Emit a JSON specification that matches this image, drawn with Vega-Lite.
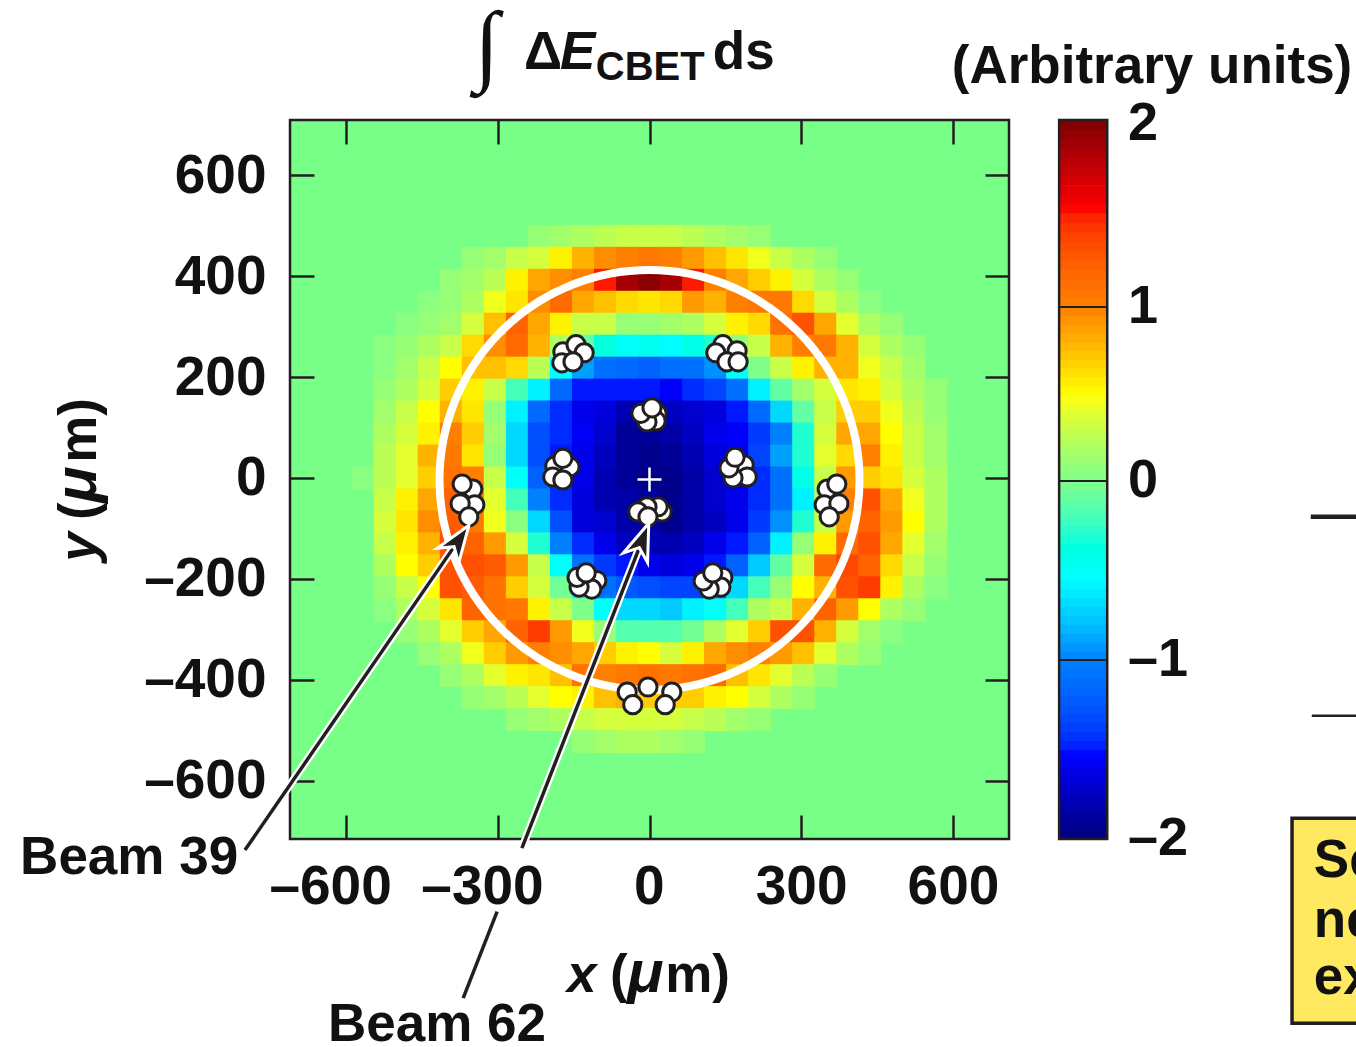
{"$schema":"https://vega.github.io/schema/vega-lite/v6.json","width":719,"height":719,"autosize":{"type":"none"},"padding":{"left":290,"top":120,"right":347,"bottom":208},"background":"white","config":{"view":{"stroke":"#231f20","strokeWidth":2.5,"fill":"#78ff88"},"text":{"font":"Liberation Sans","fontWeight":"bold","color":"#111111"}},
"datasets":{"heat":[
{"x":-217.5,"y":478.5,"v":0.1},{"x":-174,"y":478.5,"v":0.15},{"x":-130.5,"y":478.5,"v":0.2},{"x":-87,"y":478.5,"v":0.25},{"x":-43.5,"y":478.5,"v":0.3},{"x":0,"y":478.5,"v":0.3},{"x":43.5,"y":478.5,"v":0.3},{"x":87,"y":478.5,"v":0.25},{"x":130.5,"y":478.5,"v":0.2},{"x":174,"y":478.5,"v":0.15},{"x":217.5,"y":478.5,"v":0.1},
{"x":-348,"y":435,"v":0.1},{"x":-304.5,"y":435,"v":0.15},{"x":-261,"y":435,"v":0.3},{"x":-217.5,"y":435,"v":0.35},{"x":-174,"y":435,"v":0.55},{"x":-130.5,"y":435,"v":0.8},{"x":-87,"y":435,"v":0.95},{"x":-43.5,"y":435,"v":1},{"x":0,"y":435,"v":1.05},{"x":43.5,"y":435,"v":1},{"x":87,"y":435,"v":0.9},{"x":130.5,"y":435,"v":0.75},{"x":174,"y":435,"v":0.6},{"x":217.5,"y":435,"v":0.45},{"x":261,"y":435,"v":0.3},{"x":304.5,"y":435,"v":0.2},{"x":348,"y":435,"v":0.1},
{"x":-391.5,"y":391.5,"v":0.1},{"x":-348,"y":391.5,"v":0.15},{"x":-304.5,"y":391.5,"v":0.25},{"x":-261,"y":391.5,"v":0.55},{"x":-217.5,"y":391.5,"v":0.85},{"x":-174,"y":391.5,"v":0.95},{"x":-130.5,"y":391.5,"v":1},{"x":-87,"y":391.5,"v":1.5},{"x":-43.5,"y":391.5,"v":1.85},{"x":0,"y":391.5,"v":1.95},{"x":43.5,"y":391.5,"v":1.85},{"x":87,"y":391.5,"v":1.5},{"x":130.5,"y":391.5,"v":1},{"x":174,"y":391.5,"v":0.85},{"x":217.5,"y":391.5,"v":0.7},{"x":261,"y":391.5,"v":0.55},{"x":304.5,"y":391.5,"v":0.35},{"x":348,"y":391.5,"v":0.2},{"x":391.5,"y":391.5,"v":0.1},
{"x":-435,"y":348,"v":0.05},{"x":-391.5,"y":348,"v":0.1},{"x":-348,"y":348,"v":0.2},{"x":-304.5,"y":348,"v":0.45},{"x":-261,"y":348,"v":0.6},{"x":-217.5,"y":348,"v":0.95},{"x":-174,"y":348,"v":1.15},{"x":-130.5,"y":348,"v":0.85},{"x":-87,"y":348,"v":0.75},{"x":-43.5,"y":348,"v":0.65},{"x":0,"y":348,"v":0.6},{"x":43.5,"y":348,"v":0.65},{"x":87,"y":348,"v":0.9},{"x":130.5,"y":348,"v":0.8},{"x":174,"y":348,"v":1},{"x":217.5,"y":348,"v":1.05},{"x":261,"y":348,"v":1.05},{"x":304.5,"y":348,"v":0.65},{"x":348,"y":348,"v":0.35},{"x":391.5,"y":348,"v":0.2},{"x":435,"y":348,"v":0.05},
{"x":-478.5,"y":304.5,"v":0.05},{"x":-435,"y":304.5,"v":0.1},{"x":-391.5,"y":304.5,"v":0.15},{"x":-348,"y":304.5,"v":0.35},{"x":-304.5,"y":304.5,"v":0.75},{"x":-261,"y":304.5,"v":1.2},{"x":-217.5,"y":304.5,"v":0.85},{"x":-174,"y":304.5,"v":0.55},{"x":-130.5,"y":304.5,"v":0.3},{"x":-87,"y":304.5,"v":0.3},{"x":-43.5,"y":304.5,"v":0.1},{"x":0,"y":304.5,"v":0.1},{"x":43.5,"y":304.5,"v":0.15},{"x":87,"y":304.5,"v":0.2},{"x":130.5,"y":304.5,"v":0.35},{"x":174,"y":304.5,"v":0.55},{"x":217.5,"y":304.5,"v":0.65},{"x":261,"y":304.5,"v":1.1},{"x":304.5,"y":304.5,"v":1.3},{"x":348,"y":304.5,"v":0.85},{"x":391.5,"y":304.5,"v":0.4},{"x":435,"y":304.5,"v":0.2},{"x":478.5,"y":304.5,"v":0.1},
{"x":-522,"y":261,"v":0.05},{"x":-478.5,"y":261,"v":0.1},{"x":-435,"y":261,"v":0.2},{"x":-391.5,"y":261,"v":0.3},{"x":-348,"y":261,"v":0.65},{"x":-304.5,"y":261,"v":0.95},{"x":-261,"y":261,"v":1.15},{"x":-217.5,"y":261,"v":0.8},{"x":-174,"y":261,"v":0.2},{"x":-130.5,"y":261,"v":-0.1},{"x":-87,"y":261,"v":-0.35},{"x":-43.5,"y":261,"v":-0.5},{"x":0,"y":261,"v":-0.45},{"x":43.5,"y":261,"v":-0.55},{"x":87,"y":261,"v":-0.4},{"x":130.5,"y":261,"v":-0.3},{"x":174,"y":261,"v":0.1},{"x":217.5,"y":261,"v":0.3},{"x":261,"y":261,"v":0.8},{"x":304.5,"y":261,"v":1},{"x":348,"y":261,"v":1.05},{"x":391.5,"y":261,"v":0.8},{"x":435,"y":261,"v":0.35},{"x":478.5,"y":261,"v":0.2},{"x":522,"y":261,"v":0.1},
{"x":-522,"y":217.5,"v":0.05},{"x":-478.5,"y":217.5,"v":0.15},{"x":-435,"y":217.5,"v":0.3},{"x":-391.5,"y":217.5,"v":0.5},{"x":-348,"y":217.5,"v":0.75},{"x":-304.5,"y":217.5,"v":0.75},{"x":-261,"y":217.5,"v":0.65},{"x":-217.5,"y":217.5,"v":0.25},{"x":-174,"y":217.5,"v":-0.55},{"x":-130.5,"y":217.5,"v":-0.9},{"x":-87,"y":217.5,"v":-1.1},{"x":-43.5,"y":217.5,"v":-1.15},{"x":0,"y":217.5,"v":-1.2},{"x":43.5,"y":217.5,"v":-1.1},{"x":87,"y":217.5,"v":-1.1},{"x":130.5,"y":217.5,"v":-0.95},{"x":174,"y":217.5,"v":-0.5},{"x":217.5,"y":217.5,"v":0},{"x":261,"y":217.5,"v":0.3},{"x":304.5,"y":217.5,"v":0.55},{"x":348,"y":217.5,"v":0.8},{"x":391.5,"y":217.5,"v":0.8},{"x":435,"y":217.5,"v":0.45},{"x":478.5,"y":217.5,"v":0.3},{"x":522,"y":217.5,"v":0.15},
{"x":-522,"y":174,"v":0.1},{"x":-478.5,"y":174,"v":0.2},{"x":-435,"y":174,"v":0.35},{"x":-391.5,"y":174,"v":0.7},{"x":-348,"y":174,"v":0.55},{"x":-304.5,"y":174,"v":0.3},{"x":-261,"y":174,"v":-0.2},{"x":-217.5,"y":174,"v":-0.6},{"x":-174,"y":174,"v":-1.15},{"x":-130.5,"y":174,"v":-1.5},{"x":-87,"y":174,"v":-1.5},{"x":-43.5,"y":174,"v":-1.5},{"x":0,"y":174,"v":-1.5},{"x":43.5,"y":174,"v":-1.55},{"x":87,"y":174,"v":-1.45},{"x":130.5,"y":174,"v":-1.35},{"x":174,"y":174,"v":-1.1},{"x":217.5,"y":174,"v":-0.6},{"x":261,"y":174,"v":-0.1},{"x":304.5,"y":174,"v":0.15},{"x":348,"y":174,"v":0.35},{"x":391.5,"y":174,"v":0.6},{"x":435,"y":174,"v":0.55},{"x":478.5,"y":174,"v":0.35},{"x":522,"y":174,"v":0.2},{"x":565.5,"y":174,"v":0.1},
{"x":-522,"y":130.5,"v":0.15},{"x":-478.5,"y":130.5,"v":0.3},{"x":-435,"y":130.5,"v":0.5},{"x":-391.5,"y":130.5,"v":0.8},{"x":-348,"y":130.5,"v":0.6},{"x":-304.5,"y":130.5,"v":0.1},{"x":-261,"y":130.5,"v":-0.6},{"x":-217.5,"y":130.5,"v":-1.15},{"x":-174,"y":130.5,"v":-1.45},{"x":-130.5,"y":130.5,"v":-1.6},{"x":-87,"y":130.5,"v":-1.65},{"x":-43.5,"y":130.5,"v":-1.8},{"x":0,"y":130.5,"v":-1.8},{"x":43.5,"y":130.5,"v":-1.75},{"x":87,"y":130.5,"v":-1.7},{"x":130.5,"y":130.5,"v":-1.65},{"x":174,"y":130.5,"v":-1.5},{"x":217.5,"y":130.5,"v":-1.15},{"x":261,"y":130.5,"v":-0.7},{"x":304.5,"y":130.5,"v":-0.1},{"x":348,"y":130.5,"v":0.3},{"x":391.5,"y":130.5,"v":0.7},{"x":435,"y":130.5,"v":0.7},{"x":478.5,"y":130.5,"v":0.45},{"x":522,"y":130.5,"v":0.25},{"x":565.5,"y":130.5,"v":0.1},
{"x":-522,"y":87,"v":0.2},{"x":-478.5,"y":87,"v":0.35},{"x":-435,"y":87,"v":0.55},{"x":-391.5,"y":87,"v":1},{"x":-348,"y":87,"v":0.7},{"x":-304.5,"y":87,"v":0.15},{"x":-261,"y":87,"v":-0.7},{"x":-217.5,"y":87,"v":-1.3},{"x":-174,"y":87,"v":-1.45},{"x":-130.5,"y":87,"v":-1.55},{"x":-87,"y":87,"v":-1.7},{"x":-43.5,"y":87,"v":-1.9},{"x":0,"y":87,"v":-1.9},{"x":43.5,"y":87,"v":-1.85},{"x":87,"y":87,"v":-1.75},{"x":130.5,"y":87,"v":-1.6},{"x":174,"y":87,"v":-1.55},{"x":217.5,"y":87,"v":-1.4},{"x":261,"y":87,"v":-1},{"x":304.5,"y":87,"v":-0.3},{"x":348,"y":87,"v":0.35},{"x":391.5,"y":87,"v":0.85},{"x":435,"y":87,"v":0.85},{"x":478.5,"y":87,"v":0.5},{"x":522,"y":87,"v":0.3},{"x":565.5,"y":87,"v":0.15},
{"x":-522,"y":43.5,"v":0.25},{"x":-478.5,"y":43.5,"v":0.4},{"x":-435,"y":43.5,"v":0.8},{"x":-391.5,"y":43.5,"v":1.05},{"x":-348,"y":43.5,"v":0.6},{"x":-304.5,"y":43.5,"v":0.1},{"x":-261,"y":43.5,"v":-0.7},{"x":-217.5,"y":43.5,"v":-1.3},{"x":-174,"y":43.5,"v":-1.5},{"x":-130.5,"y":43.5,"v":-1.6},{"x":-87,"y":43.5,"v":-1.75},{"x":-43.5,"y":43.5,"v":-1.9},{"x":0,"y":43.5,"v":-1.95},{"x":43.5,"y":43.5,"v":-1.9},{"x":87,"y":43.5,"v":-1.8},{"x":130.5,"y":43.5,"v":-1.65},{"x":174,"y":43.5,"v":-1.6},{"x":217.5,"y":43.5,"v":-1.35},{"x":261,"y":43.5,"v":-0.9},{"x":304.5,"y":43.5,"v":-0.3},{"x":348,"y":43.5,"v":0.4},{"x":391.5,"y":43.5,"v":0.65},{"x":435,"y":43.5,"v":1},{"x":478.5,"y":43.5,"v":0.55},{"x":522,"y":43.5,"v":0.3},{"x":565.5,"y":43.5,"v":0.15},
{"x":-565.5,"y":0,"v":0.05},{"x":-522,"y":0,"v":0.25},{"x":-478.5,"y":0,"v":0.4},{"x":-435,"y":0,"v":0.7},{"x":-391.5,"y":0,"v":1.1},{"x":-348,"y":0,"v":1},{"x":-304.5,"y":0,"v":0.3},{"x":-261,"y":0,"v":-0.5},{"x":-217.5,"y":0,"v":-1.2},{"x":-174,"y":0,"v":-1.45},{"x":-130.5,"y":0,"v":-1.6},{"x":-87,"y":0,"v":-1.8},{"x":-43.5,"y":0,"v":-1.9},{"x":0,"y":0,"v":-1.95},{"x":43.5,"y":0,"v":-1.95},{"x":87,"y":0,"v":-1.85},{"x":130.5,"y":0,"v":-1.7},{"x":174,"y":0,"v":-1.6},{"x":217.5,"y":0,"v":-1.45},{"x":261,"y":0,"v":-1.1},{"x":304.5,"y":0,"v":-0.4},{"x":348,"y":0,"v":0.3},{"x":391.5,"y":0,"v":0.9},{"x":435,"y":0,"v":0.7},{"x":478.5,"y":0,"v":0.6},{"x":522,"y":0,"v":0.35},{"x":565.5,"y":0,"v":0.2},
{"x":-522,"y":-43.5,"v":0.3},{"x":-478.5,"y":-43.5,"v":0.55},{"x":-435,"y":-43.5,"v":0.85},{"x":-391.5,"y":-43.5,"v":1.2},{"x":-348,"y":-43.5,"v":1.1},{"x":-304.5,"y":-43.5,"v":0.4},{"x":-261,"y":-43.5,"v":-0.2},{"x":-217.5,"y":-43.5,"v":-1},{"x":-174,"y":-43.5,"v":-1.45},{"x":-130.5,"y":-43.5,"v":-1.65},{"x":-87,"y":-43.5,"v":-1.8},{"x":-43.5,"y":-43.5,"v":-1.85},{"x":0,"y":-43.5,"v":-1.9},{"x":43.5,"y":-43.5,"v":-1.95},{"x":87,"y":-43.5,"v":-1.85},{"x":130.5,"y":-43.5,"v":-1.7},{"x":174,"y":-43.5,"v":-1.6},{"x":217.5,"y":-43.5,"v":-1.45},{"x":261,"y":-43.5,"v":-1.1},{"x":304.5,"y":-43.5,"v":-0.6},{"x":348,"y":-43.5,"v":0.2},{"x":391.5,"y":-43.5,"v":1},{"x":435,"y":-43.5,"v":1.3},{"x":478.5,"y":-43.5,"v":0.85},{"x":522,"y":-43.5,"v":0.45},{"x":565.5,"y":-43.5,"v":0.2},
{"x":-522,"y":-87,"v":0.35},{"x":-478.5,"y":-87,"v":0.6},{"x":-435,"y":-87,"v":0.95},{"x":-391.5,"y":-87,"v":1.25},{"x":-348,"y":-87,"v":1.05},{"x":-304.5,"y":-87,"v":0.45},{"x":-261,"y":-87,"v":0.05},{"x":-217.5,"y":-87,"v":-0.7},{"x":-174,"y":-87,"v":-1.3},{"x":-130.5,"y":-87,"v":-1.65},{"x":-87,"y":-87,"v":-1.7},{"x":-43.5,"y":-87,"v":-1.85},{"x":0,"y":-87,"v":-1.85},{"x":43.5,"y":-87,"v":-1.95},{"x":87,"y":-87,"v":-1.85},{"x":130.5,"y":-87,"v":-1.75},{"x":174,"y":-87,"v":-1.6},{"x":217.5,"y":-87,"v":-1.4},{"x":261,"y":-87,"v":-0.95},{"x":304.5,"y":-87,"v":-0.3},{"x":348,"y":-87,"v":0.3},{"x":391.5,"y":-87,"v":0.9},{"x":435,"y":-87,"v":1.2},{"x":478.5,"y":-87,"v":0.9},{"x":522,"y":-87,"v":0.5},{"x":565.5,"y":-87,"v":0.2},
{"x":-522,"y":-130.5,"v":0.3},{"x":-478.5,"y":-130.5,"v":0.55},{"x":-435,"y":-130.5,"v":0.8},{"x":-391.5,"y":-130.5,"v":1.3},{"x":-348,"y":-130.5,"v":1.2},{"x":-304.5,"y":-130.5,"v":0.9},{"x":-261,"y":-130.5,"v":0.35},{"x":-217.5,"y":-130.5,"v":-0.3},{"x":-174,"y":-130.5,"v":-1},{"x":-130.5,"y":-130.5,"v":-1.45},{"x":-87,"y":-130.5,"v":-1.6},{"x":-43.5,"y":-130.5,"v":-1.75},{"x":0,"y":-130.5,"v":-1.8},{"x":43.5,"y":-130.5,"v":-1.8},{"x":87,"y":-130.5,"v":-1.75},{"x":130.5,"y":-130.5,"v":-1.6},{"x":174,"y":-130.5,"v":-1.5},{"x":217.5,"y":-130.5,"v":-1.2},{"x":261,"y":-130.5,"v":-0.6},{"x":304.5,"y":-130.5,"v":0.1},{"x":348,"y":-130.5,"v":0.55},{"x":391.5,"y":-130.5,"v":1.15},{"x":435,"y":-130.5,"v":1.3},{"x":478.5,"y":-130.5,"v":0.85},{"x":522,"y":-130.5,"v":0.4},{"x":565.5,"y":-130.5,"v":0.15},
{"x":-522,"y":-174,"v":0.2},{"x":-478.5,"y":-174,"v":0.5},{"x":-435,"y":-174,"v":0.7},{"x":-391.5,"y":-174,"v":1.3},{"x":-348,"y":-174,"v":1.3},{"x":-304.5,"y":-174,"v":1.25},{"x":-261,"y":-174,"v":0.9},{"x":-217.5,"y":-174,"v":0.3},{"x":-174,"y":-174,"v":-0.5},{"x":-130.5,"y":-174,"v":-1.1},{"x":-87,"y":-174,"v":-1.4},{"x":-43.5,"y":-174,"v":-1.5},{"x":0,"y":-174,"v":-1.6},{"x":43.5,"y":-174,"v":-1.65},{"x":87,"y":-174,"v":-1.6},{"x":130.5,"y":-174,"v":-1.5},{"x":174,"y":-174,"v":-1.2},{"x":217.5,"y":-174,"v":-0.75},{"x":261,"y":-174,"v":-0.1},{"x":304.5,"y":-174,"v":0.35},{"x":348,"y":-174,"v":1.15},{"x":391.5,"y":-174,"v":1.35},{"x":435,"y":-174,"v":1.2},{"x":478.5,"y":-174,"v":0.65},{"x":522,"y":-174,"v":0.3},{"x":565.5,"y":-174,"v":0.1},
{"x":-522,"y":-217.5,"v":0.1},{"x":-478.5,"y":-217.5,"v":0.3},{"x":-435,"y":-217.5,"v":0.5},{"x":-391.5,"y":-217.5,"v":1.3},{"x":-348,"y":-217.5,"v":1.25},{"x":-304.5,"y":-217.5,"v":1.1},{"x":-261,"y":-217.5,"v":0.7},{"x":-217.5,"y":-217.5,"v":0.35},{"x":-174,"y":-217.5,"v":-0.05},{"x":-130.5,"y":-217.5,"v":-0.6},{"x":-87,"y":-217.5,"v":-1.1},{"x":-43.5,"y":-217.5,"v":-1.25},{"x":0,"y":-217.5,"v":-1.3},{"x":43.5,"y":-217.5,"v":-1.35},{"x":87,"y":-217.5,"v":-1.35},{"x":130.5,"y":-217.5,"v":-1.15},{"x":174,"y":-217.5,"v":-0.7},{"x":217.5,"y":-217.5,"v":-0.2},{"x":261,"y":-217.5,"v":0.1},{"x":304.5,"y":-217.5,"v":0.5},{"x":348,"y":-217.5,"v":0.8},{"x":391.5,"y":-217.5,"v":1.3},{"x":435,"y":-217.5,"v":1.4},{"x":478.5,"y":-217.5,"v":0.55},{"x":522,"y":-217.5,"v":0.2},{"x":565.5,"y":-217.5,"v":0.05},
{"x":-522,"y":-261,"v":0.05},{"x":-478.5,"y":-261,"v":0.2},{"x":-435,"y":-261,"v":0.35},{"x":-391.5,"y":-261,"v":0.6},{"x":-348,"y":-261,"v":1.2},{"x":-304.5,"y":-261,"v":1.1},{"x":-261,"y":-261,"v":1.05},{"x":-217.5,"y":-261,"v":0.55},{"x":-174,"y":-261,"v":0.3},{"x":-130.5,"y":-261,"v":0},{"x":-87,"y":-261,"v":-0.5},{"x":-43.5,"y":-261,"v":-0.7},{"x":0,"y":-261,"v":-0.7},{"x":43.5,"y":-261,"v":-0.75},{"x":87,"y":-261,"v":-0.6},{"x":130.5,"y":-261,"v":-0.5},{"x":174,"y":-261,"v":-0.2},{"x":217.5,"y":-261,"v":0.2},{"x":261,"y":-261,"v":0.3},{"x":304.5,"y":-261,"v":0.8},{"x":348,"y":-261,"v":1.2},{"x":391.5,"y":-261,"v":0.9},{"x":435,"y":-261,"v":0.5},{"x":478.5,"y":-261,"v":0.2},{"x":522,"y":-261,"v":0.1},
{"x":-478.5,"y":-304.5,"v":0.1},{"x":-435,"y":-304.5,"v":0.2},{"x":-391.5,"y":-304.5,"v":0.4},{"x":-348,"y":-304.5,"v":0.7},{"x":-304.5,"y":-304.5,"v":0.85},{"x":-261,"y":-304.5,"v":1.2},{"x":-217.5,"y":-304.5,"v":1.4},{"x":-174,"y":-304.5,"v":0.9},{"x":-130.5,"y":-304.5,"v":0.45},{"x":-87,"y":-304.5,"v":0.1},{"x":-43.5,"y":-304.5,"v":-0.15},{"x":0,"y":-304.5,"v":-0.15},{"x":43.5,"y":-304.5,"v":-0.15},{"x":87,"y":-304.5,"v":-0.05},{"x":130.5,"y":-304.5,"v":0.2},{"x":174,"y":-304.5,"v":0.4},{"x":217.5,"y":-304.5,"v":0.7},{"x":261,"y":-304.5,"v":1.3},{"x":304.5,"y":-304.5,"v":1.3},{"x":348,"y":-304.5,"v":0.8},{"x":391.5,"y":-304.5,"v":0.35},{"x":435,"y":-304.5,"v":0.15},{"x":478.5,"y":-304.5,"v":0.05},
{"x":-435,"y":-348,"v":0.1},{"x":-391.5,"y":-348,"v":0.2},{"x":-348,"y":-348,"v":0.45},{"x":-304.5,"y":-348,"v":0.7},{"x":-261,"y":-348,"v":0.9},{"x":-217.5,"y":-348,"v":1},{"x":-174,"y":-348,"v":0.95},{"x":-130.5,"y":-348,"v":0.85},{"x":-87,"y":-348,"v":0.7},{"x":-43.5,"y":-348,"v":0.55},{"x":0,"y":-348,"v":0.5},{"x":43.5,"y":-348,"v":0.35},{"x":87,"y":-348,"v":0.55},{"x":130.5,"y":-348,"v":0.85},{"x":174,"y":-348,"v":0.95},{"x":217.5,"y":-348,"v":1},{"x":261,"y":-348,"v":0.9},{"x":304.5,"y":-348,"v":0.75},{"x":348,"y":-348,"v":0.4},{"x":391.5,"y":-348,"v":0.2},{"x":435,"y":-348,"v":0.1},
{"x":-391.5,"y":-391.5,"v":0.1},{"x":-348,"y":-391.5,"v":0.2},{"x":-304.5,"y":-391.5,"v":0.4},{"x":-261,"y":-391.5,"v":0.55},{"x":-217.5,"y":-391.5,"v":0.6},{"x":-174,"y":-391.5,"v":0.75},{"x":-130.5,"y":-391.5,"v":1.1},{"x":-87,"y":-391.5,"v":1},{"x":-43.5,"y":-391.5,"v":1.05},{"x":0,"y":-391.5,"v":1.1},{"x":43.5,"y":-391.5,"v":1.05},{"x":87,"y":-391.5,"v":1.1},{"x":130.5,"y":-391.5,"v":1.15},{"x":174,"y":-391.5,"v":0.75},{"x":217.5,"y":-391.5,"v":0.6},{"x":261,"y":-391.5,"v":0.4},{"x":304.5,"y":-391.5,"v":0.25},{"x":348,"y":-391.5,"v":0.1},
{"x":-348,"y":-435,"v":0.1},{"x":-304.5,"y":-435,"v":0.15},{"x":-261,"y":-435,"v":0.25},{"x":-217.5,"y":-435,"v":0.4},{"x":-174,"y":-435,"v":0.5},{"x":-130.5,"y":-435,"v":0.55},{"x":-87,"y":-435,"v":0.75},{"x":-43.5,"y":-435,"v":0.8},{"x":0,"y":-435,"v":0.7},{"x":43.5,"y":-435,"v":0.7},{"x":87,"y":-435,"v":0.7},{"x":130.5,"y":-435,"v":0.55},{"x":174,"y":-435,"v":0.5},{"x":217.5,"y":-435,"v":0.35},{"x":261,"y":-435,"v":0.2},{"x":304.5,"y":-435,"v":0.1},
{"x":-261,"y":-478.5,"v":0.1},{"x":-217.5,"y":-478.5,"v":0.15},{"x":-174,"y":-478.5,"v":0.2},{"x":-130.5,"y":-478.5,"v":0.3},{"x":-87,"y":-478.5,"v":0.35},{"x":-43.5,"y":-478.5,"v":0.35},{"x":0,"y":-478.5,"v":0.35},{"x":43.5,"y":-478.5,"v":0.35},{"x":87,"y":-478.5,"v":0.3},{"x":130.5,"y":-478.5,"v":0.25},{"x":174,"y":-478.5,"v":0.15},{"x":217.5,"y":-478.5,"v":0.1},
{"x":-130.5,"y":-522,"v":0.1},{"x":-87,"y":-522,"v":0.15},{"x":-43.5,"y":-522,"v":0.2},{"x":0,"y":-522,"v":0.2},{"x":43.5,"y":-522,"v":0.15},{"x":87,"y":-522,"v":0.1}
],
"bar":[{"v":-1.975},{"v":-1.925},{"v":-1.875},{"v":-1.825},{"v":-1.775},{"v":-1.725},{"v":-1.675},{"v":-1.625},{"v":-1.575},{"v":-1.525},{"v":-1.475},{"v":-1.425},{"v":-1.375},{"v":-1.325},{"v":-1.275},{"v":-1.225},{"v":-1.175},{"v":-1.125},{"v":-1.075},{"v":-1.025},{"v":-0.975},{"v":-0.925},{"v":-0.875},{"v":-0.825},{"v":-0.775},{"v":-0.725},{"v":-0.675},{"v":-0.625},{"v":-0.575},{"v":-0.525},{"v":-0.475},{"v":-0.425},{"v":-0.375},{"v":-0.325},{"v":-0.275},{"v":-0.225},{"v":-0.175},{"v":-0.125},{"v":-0.075},{"v":-0.025},{"v":0.025},{"v":0.075},{"v":0.125},{"v":0.175},{"v":0.225},{"v":0.275},{"v":0.325},{"v":0.375},{"v":0.425},{"v":0.475},{"v":0.525},{"v":0.575},{"v":0.625},{"v":0.675},{"v":0.725},{"v":0.775},{"v":0.825},{"v":0.875},{"v":0.925},{"v":0.975},{"v":1.025},{"v":1.075},{"v":1.125},{"v":1.175},{"v":1.225},{"v":1.275},{"v":1.325},{"v":1.375},{"v":1.425},{"v":1.475},{"v":1.525},{"v":1.575},{"v":1.625},{"v":1.675},{"v":1.725},{"v":1.775},{"v":1.825},{"v":1.875},{"v":1.925},{"v":1.975}],
"spots":[{"x":-171,"y":250},{"x":-145,"y":264},{"x":-129,"y":248},{"x":-173,"y":228},{"x":-151,"y":230},{"x":145,"y":264},{"x":173,"y":252},{"x":131,"y":248},{"x":153,"y":230},{"x":175,"y":230},{"x":15,"y":128},{"x":13,"y":113},{"x":-5,"y":111},{"x":-17,"y":128},{"x":5,"y":139},{"x":-187,"y":24},{"x":-157,"y":22},{"x":-171,"y":39},{"x":-191,"y":2},{"x":-171,"y":-4},{"x":187,"y":26},{"x":193,"y":2},{"x":165,"y":0},{"x":157,"y":20},{"x":169,"y":41},{"x":25,"y":-67},{"x":17,"y":-57},{"x":-5,"y":-57},{"x":-23,"y":-67},{"x":-3,"y":-77},{"x":-104,"y":-203},{"x":-114,"y":-220},{"x":-139,"y":-216},{"x":-143,"y":-197},{"x":-125,"y":-188},{"x":145,"y":-197},{"x":141,"y":-216},{"x":118,"y":-220},{"x":106,"y":-204},{"x":125,"y":-188},{"x":-349,"y":-22},{"x":-370,"y":-12},{"x":-345,"y":-53},{"x":-374,"y":-51},{"x":-357,"y":-77},{"x":351,"y":-22},{"x":370,"y":-12},{"x":345,"y":-53},{"x":374,"y":-51},{"x":355,"y":-77},{"x":-3,"y":-414},{"x":-44,"y":-424},{"x":-33,"y":-449},{"x":44,"y":-424},{"x":31,"y":-449}],
"arrows":[{"s":"Beam 39","x":-799,"y":-737},{"s":"Beam 39","x":-381,"y":-129},{"s":"Beam 62","x":-252,"y":-733},{"s":"Beam 62","x":-17,"y":-130},{"s":"Beam 62 lower","x":-301,"y":-859},{"s":"Beam 62 lower","x":-368,"y":-1030}]},
"resolve":{"scale":{"y":"independent"},"axis":{"x":"independent","y":"independent"}},
"layer":[
{"resolve":{"axis":{"x":"independent","y":"independent"}},"layer":[
{"data":{"name":"heat"},"mark":{"type":"rect","width":23,"height":23},"encoding":{
"x":{"field":"x","type":"quantitative","scale":{"domain":[-710,710]},"axis":{"orient":"bottom","values":[-600,-300,0,300,600],"title":null,"grid":false,"domain":false,"labels":false,"tickSize":-24,"tickWidth":2.5,"tickColor":"#231f20"}},
"y":{"field":"y","type":"quantitative","scale":{"domain":[-715,709]},"axis":{"orient":"left","values":[-600,-400,-200,0,200,400,600],"title":null,"grid":false,"domain":false,"tickSize":-24,"tickWidth":2.5,"tickColor":"#231f20","labelFont":"Liberation Sans","labelFontWeight":"bold","labelFontSize":55,"labelColor":"#111111","labelPadding":48,"labelOverlap":false,"labelFlush":false,"labelBound":false,"labelExpr":"datum.value<0?'–'+abs(datum.value):''+datum.value"}},
"color":{"field":"v","type":"quantitative","legend":null,"scale":{"domain":[-2,-1.53,-1,-0.54,0,0.5,1,1.53,2],"range":["#00007f","#0000ff","#0080ff","#00ffff","#7fff8a","#ffff00","#ff8000","#ff0000","#7f0000"]}}}},
{"data":{"values":[{"x":0,"y":-4}]},"mark":{"type":"point","size":176400,"filled":false,"stroke":"white","strokeWidth":8,"opacity":1},"encoding":{
"x":{"field":"x","type":"quantitative","scale":{"domain":[-710,710]},"axis":{"orient":"top","values":[-600,-300,0,300,600],"title":null,"grid":false,"domain":false,"labels":false,"tickSize":-24,"tickWidth":2.5,"tickColor":"#231f20"}},
"y":{"field":"y","type":"quantitative","scale":{"domain":[-715,709]},"axis":{"orient":"right","values":[-600,-400,-200,0,200,400,600],"title":null,"grid":false,"domain":false,"labels":false,"tickSize":-24,"tickWidth":2.5,"tickColor":"#231f20"}}}},
{"data":{"values":[{"x":0,"y":-3}]},"mark":{"type":"point","size":576,"filled":false,"stroke":"white","strokeWidth":2.5,"opacity":1,"shape":"M-1,0H1M0,-1V1"},"encoding":{
"x":{"field":"x","type":"quantitative","scale":{"domain":[-710,710]},"axis":null},
"y":{"field":"y","type":"quantitative","scale":{"domain":[-715,709]},"axis":null}}},
{"data":{"name":"spots"},"mark":{"type":"point","size":330,"filled":true,"fill":"white","stroke":"#231f20","strokeWidth":3,"opacity":1},"encoding":{
"x":{"field":"x","type":"quantitative","scale":{"domain":[-710,710]},"axis":null},
"y":{"field":"y","type":"quantitative","scale":{"domain":[-715,709]},"axis":null}}},
{"data":{"name":"arrows"},"mark":{"type":"line","stroke":"white","strokeWidth":8},"encoding":{
"x":{"field":"x","type":"quantitative","scale":{"domain":[-710,710]},"axis":null},
"y":{"field":"y","type":"quantitative","scale":{"domain":[-715,709]},"axis":null},"detail":{"field":"s"}}},
{"data":{"name":"arrows"},"mark":{"type":"line","stroke":"#231f20","strokeWidth":3.5},"encoding":{
"x":{"field":"x","type":"quantitative","scale":{"domain":[-710,710]},"axis":null},
"y":{"field":"y","type":"quantitative","scale":{"domain":[-715,709]},"axis":null},"detail":{"field":"s"}}},
{"data":{"values":[{"x":-381,"y":-129,"a":34.6},{"x":-17,"y":-130,"a":21.2}]},"mark":{"type":"point","size":1900,"filled":true,"fill":"#231f20","stroke":"white","strokeWidth":3,"opacity":1,"shape":"M0,-1L0.6,0.7L0,0.2L-0.6,0.7Z"},"encoding":{
"x":{"field":"x","type":"quantitative","scale":{"domain":[-710,710]},"axis":null},
"y":{"field":"y","type":"quantitative","scale":{"domain":[-715,709]},"axis":null},"angle":{"field":"a","type":"quantitative","scale":null}}},
{"data":{"values":[{"x":1269,"x2":1440,"y":-674,"y2":-1080}]},"mark":{"type":"rect","fill":"#ffe960","stroke":"#231f20","strokeWidth":3.5},"encoding":{
"x":{"field":"x","type":"quantitative","scale":{"domain":[-710,710]},"axis":null},"x2":{"field":"x2"},
"y":{"field":"y","type":"quantitative","scale":{"domain":[-715,709]},"axis":null},"y2":{"field":"y2"}}},
{"data":{"values":[{"x":1306,"x2":1440,"y":-77}]},"mark":{"type":"rule","stroke":"#231f20","strokeWidth":4.5},"encoding":{
"x":{"field":"x","type":"quantitative","scale":{"domain":[-710,710]},"axis":null},"x2":{"field":"x2"},
"y":{"field":"y","type":"quantitative","scale":{"domain":[-715,709]},"axis":null}}},
{"data":{"values":[{"x":1308,"x2":1440,"y":-471}]},"mark":{"type":"rule","stroke":"#231f20","strokeWidth":2.5},"encoding":{
"x":{"field":"x","type":"quantitative","scale":{"domain":[-710,710]},"axis":null},"x2":{"field":"x2"},
"y":{"field":"y","type":"quantitative","scale":{"domain":[-715,709]},"axis":null}}},
{"data":{"values":[{"x":-509,"y":-844,"t":"–600"},{"x":-209,"y":-844,"t":"–300"},{"x":30,"y":-844,"t":"0"},{"x":391,"y":-844,"t":"300"},{"x":691,"y":-844,"t":"600"}]},"mark":{"type":"text","fontSize":55,"align":"right","baseline":"alphabetic"},"encoding":{
"x":{"field":"x","type":"quantitative","scale":{"domain":[-710,710]},"axis":null},
"y":{"field":"y","type":"quantitative","scale":{"domain":[-715,709]},"axis":null},"text":{"field":"t"}}},
{"data":{"values":[{"x":-1243,"y":-784,"t":"Beam 39"},{"x":-635,"y":-1115,"t":"Beam 62"},{"x":-248,"y":810,"t":"Δ"},{"x":125,"y":810,"t":"ds"},{"x":597,"y":782,"t":"(Arbitrary units)"},{"x":1312,"y":-790,"t":"Se"},{"x":1312,"y":-909,"t":"ne"},{"x":1312,"y":-1022,"t":"ex"},{"x":-78,"y":-1018,"t":"("},{"x":31,"y":-1018,"t":"m)"}]},"mark":{"type":"text","fontSize":53,"align":"left","baseline":"alphabetic"},"encoding":{
"x":{"field":"x","type":"quantitative","scale":{"domain":[-710,710]},"axis":null},
"y":{"field":"y","type":"quantitative","scale":{"domain":[-715,709]},"axis":null},"text":{"field":"t"}}},
{"data":{"values":[{"x":-177,"y":810,"t":"E"},{"x":-163,"y":-1018,"t":"x"}]},"mark":{"type":"text","fontSize":53,"fontStyle":"italic","align":"left","baseline":"alphabetic"},"encoding":{
"x":{"field":"x","type":"quantitative","scale":{"domain":[-710,710]},"axis":null},
"y":{"field":"y","type":"quantitative","scale":{"domain":[-715,709]},"axis":null},"text":{"field":"t"}}},
{"data":{"values":[{"x":-44,"y":-1018,"t":"μ"}]},"mark":{"type":"text","fontSize":60,"fontStyle":"italic","align":"left","baseline":"alphabetic"},"encoding":{
"x":{"field":"x","type":"quantitative","scale":{"domain":[-710,710]},"axis":null},
"y":{"field":"y","type":"quantitative","scale":{"domain":[-715,709]},"axis":null},"text":{"field":"t"}}},
{"data":{"values":[{"x":-106,"y":788,"t":"CBET"}]},"mark":{"type":"text","fontSize":40,"align":"left","baseline":"alphabetic"},"encoding":{
"x":{"field":"x","type":"quantitative","scale":{"domain":[-710,710]},"axis":null},
"y":{"field":"y","type":"quantitative","scale":{"domain":[-715,709]},"axis":null},"text":{"field":"t"}}},
{"data":{"values":[{"x":-346,"y":800,"t":"∫"}]},"mark":{"type":"text","font":"Liberation Serif","fontWeight":"normal","fontStyle":"italic","fontSize":90,"align":"left","baseline":"alphabetic"},"encoding":{
"x":{"field":"x","type":"quantitative","scale":{"domain":[-710,710]},"axis":null},
"y":{"field":"y","type":"quantitative","scale":{"domain":[-715,709]},"axis":null},"text":{"field":"t"}}},
{"data":{"values":[{"x":-1093,"y":-83,"t":"("},{"x":-1093,"y":30,"t":"m)"}]},"mark":{"type":"text","fontSize":53,"angle":270,"align":"left","baseline":"alphabetic"},"encoding":{
"x":{"field":"x","type":"quantitative","scale":{"domain":[-710,710]},"axis":null},
"y":{"field":"y","type":"quantitative","scale":{"domain":[-715,709]},"axis":null},"text":{"field":"t"}}},
{"data":{"values":[{"x":-1093,"y":-166,"t":"y"}]},"mark":{"type":"text","fontSize":53,"fontStyle":"italic","angle":270,"align":"left","baseline":"alphabetic"},"encoding":{
"x":{"field":"x","type":"quantitative","scale":{"domain":[-710,710]},"axis":null},
"y":{"field":"y","type":"quantitative","scale":{"domain":[-715,709]},"axis":null},"text":{"field":"t"}}},
{"data":{"values":[{"x":-1093,"y":-49,"t":"μ"}]},"mark":{"type":"text","fontSize":60,"fontStyle":"italic","angle":270,"align":"left","baseline":"alphabetic"},"encoding":{
"x":{"field":"x","type":"quantitative","scale":{"domain":[-710,710]},"axis":null},
"y":{"field":"y","type":"quantitative","scale":{"domain":[-715,709]},"axis":null},"text":{"field":"t"}}}
]},
{"layer":[
{"data":{"name":"bar"},"mark":{"type":"rect","width":48,"height":10},"encoding":{
"x":{"datum":856,"type":"quantitative","scale":{"domain":[-710,710]},"axis":null},
"y":{"field":"v","type":"quantitative","scale":{"domain":[-2,-1,0,1,2],"range":[719,540,361,187,0]},"axis":null},
"color":{"field":"v","type":"quantitative","legend":null,"scale":{"domain":[-2,-1.53,-1,-0.54,0,0.5,1,1.53,2],"range":["#00007f","#0000ff","#0080ff","#00ffff","#7fff8a","#ffff00","#ff8000","#ff0000","#7f0000"]}}}},
{"data":{"values":[{"v":-1},{"v":0},{"v":1}]},"mark":{"type":"rule","stroke":"#231f20","strokeWidth":2},"encoding":{
"x":{"datum":809,"type":"quantitative","scale":{"domain":[-710,710]},"axis":null},"x2":{"datum":904},
"y":{"field":"v","type":"quantitative","scale":{"domain":[-2,-1,0,1,2],"range":[719,540,361,187,0]},"axis":null}}},
{"data":{"values":[{"a":-2,"b":2}]},"mark":{"type":"rect","fill":null,"fillOpacity":0,"stroke":"#231f20","strokeWidth":2.5},"encoding":{
"x":{"datum":809,"type":"quantitative","scale":{"domain":[-710,710]},"axis":null},"x2":{"datum":904},
"y":{"field":"a","type":"quantitative","scale":{"domain":[-2,-1,0,1,2],"range":[719,540,361,187,0]},"axis":null},"y2":{"field":"b"}}},
{"data":{"values":[{"v":1.98,"t":"2"},{"v":1,"t":"1"},{"v":0,"t":"0"},{"v":-1,"t":"–1"},{"v":-2,"t":"–2"}]},"mark":{"type":"text","fontSize":54,"align":"left","baseline":"middle"},"encoding":{
"x":{"datum":945,"type":"quantitative","scale":{"domain":[-710,710]},"axis":null},
"y":{"field":"v","type":"quantitative","scale":{"domain":[-2,-1,0,1,2],"range":[719,540,361,187,0]},"axis":null},"text":{"field":"t"}}}
]}
]}
